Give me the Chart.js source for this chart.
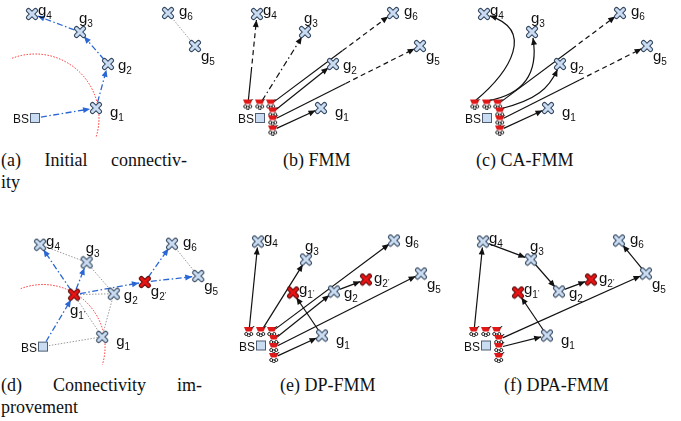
<!DOCTYPE html>
<html>
<head>
<meta charset="utf-8">
<script src="https://cdn.jsdelivr.net/npm/chart.js@4.4.0/dist/chart.umd.min.js"></script>
<style>
    body { margin: 0; background: #fff; width: 681px; height: 421px; position: relative; overflow: hidden; }
    canvas { position: absolute; }
    .cap { position: absolute; font-family: "Liberation Serif", serif; font-size: 18px; color: #111; white-space: nowrap; line-height: 20px; }
    .just { text-align: justify; text-align-last: justify; white-space: normal; }
</style>
</head>
<body>
<div class="cap just" style="left:1px;top:150px;width:186px">(a) Initial connectiv-</div>
<div class="cap" style="left:1px;top:172px">ity</div>
<div class="cap" style="left:283px;top:150px">(b) FMM</div>
<div class="cap" style="left:476px;top:150px">(c) CA-FMM</div>
<div class="cap just" style="left:1px;top:375px;width:201px">(d) Connectivity im-</div>
<div class="cap" style="left:1px;top:397px">provement</div>
<div class="cap" style="left:280px;top:375px">(e) DP-FMM</div>
<div class="cap" style="left:504px;top:375px">(f) DPA-FMM</div>
<script>
// node positions (panel units, y grows downward)
const GATEWAYS = ["g1", "g2", "g3", "g4", "g5", "g6"];
const GATE_X = [96, 108, 80, 32, 195, 168];
const GATE_Y = [108, 64, 32, 14, 46, 13];
const VIRTUALS = ["g1'", "g2'"];
const VIRT_X = [67, 140];
const VIRT_Y = [65, 52];
const BS_X = [35];
const BS_Y = [118];
const ROBOTS = ["r1", "r2", "r3", "r4", "r5", "r6"];
const ROBOT_X = [23, 35, 46, 48, 48, 48];
const ROBOT_Y = [104, 104, 104, 112, 120, 130];
const RANGE = 64;

// links per panel: [from, to, style, extra]
const EDGES_A = [
    ["BS", "g1", "blue"], ["g1", "g2", "blue"], ["g2", "g3", "blue"], ["g3", "g4", "blue"],
    ["g6", "g5", "gray"]
];
const EDGES_B = [
    ["r1", "g4", "mixed", 0.35], ["r2", "g3", "dashdot"], ["r3", "g6", "mixed", 0.6],
    ["r4", "g2", "solid"], ["r5", "g5", "mixed", 0.5], ["r6", "g1", "solid"]
];
const EDGES_C = [
    ["r1", "g4", "curve", [60, 70, 82, 30]], ["r2", "g3", "curve", [70, 95, 87, 75]],
    ["r3", "g6", "mixed", 0.62], ["r4", "g2", "curve", [85, 100, 97, 88]],
    ["r5", "g5", "mixed", 0.55], ["r6", "g1", "solid"]
];
const EDGES_D = [
    ["BS", "g1", "gray"], ["g1", "g1'", "gray"], ["g1", "g2", "gray"], ["g2", "g3", "gray"],
    ["g3", "g4", "gray"], ["g1'", "g2", "gray"], ["g6", "g5", "gray"],
    ["BS", "g1'", "blue"], ["g1'", "g4", "blue"], ["g1'", "g3", "blue"], ["g1'", "g2'", "blue"],
    ["g2'", "g6", "blue"], ["g2'", "g5", "blue"]
];
const EDGES_E = [
    ["r1", "g4", "solid"], ["r2", "g3", "solid"], ["r3", "g6", "solid"], ["r4", "g2", "solid"],
    ["r5", "g5", "solid"], ["r6", "g1", "solid"], ["g1", "g1'", "solid"], ["g2", "g2'", "solid"]
];
const EDGES_F = [
    ["r1", "g4", "solid"], ["g4", "g3", "solid"], ["g3", "g2", "solid"], ["g2", "g2'", "solid"],
    ["g5", "g6", "solid"], ["r4", "g5", "solid"], ["r5", "g1", "solid"], ["g1", "g1'", "solid"]
];

// label offsets in pixels: [dx to left of "g", dy to baseline]
const LAB = { g1: [14, 9], g2: [10, 6], g3: [-1, -9], g4: [6, 1], g5: [6, 15], g6: [11, 3] };
const LAB_VIRT_D = { "g1'": [-4, 20], "g2'": [6, 14] };
const LAB_VIRT_EF = { "g1'": [6, 1], "g2'": [8, 3] };

const PANELS = [
    { left: 0, top: 0, x: [0, 227], y: [0, 147], edges: EDGES_A, range: true },
    { left: 225, top: 0, x: [0, 227], y: [0, 147], edges: EDGES_B, robots: true },
    { left: 450, top: 0, x: [-2, 225], y: [0, 147], edges: EDGES_C, robots: true },
    { left: 0, top: 225, x: [-9.3, 224.7], y: [-6.1, 143.9], edges: EDGES_D, range: true, virt: LAB_VIRT_D },
    { left: 225, top: 225, x: [-1, 226], y: [-2.5, 144.5], edges: EDGES_E, robots: true, virt: LAB_VIRT_EF },
    { left: 450, top: 225, x: [-1, 226], y: [-2.5, 144.5], edges: EDGES_F, robots: true, virt: LAB_VIRT_EF }
];

const BLUE = "#2a67d4";

function nodePos(id) {
    if (id === "BS") return [BS_X[0], BS_Y[0]];
    let i = ROBOTS.indexOf(id);
    if (i >= 0) return [ROBOT_X[i], ROBOT_Y[i]];
    i = VIRTUALS.indexOf(id);
    if (i >= 0) return [VIRT_X[i], VIRT_Y[i]];
    i = GATEWAYS.indexOf(id);
    return [GATE_X[i], GATE_Y[i]];
}

function crossIcon(fill, edge) {
    const c = document.createElement("canvas");
    c.width = 14; c.height = 14;
    const g = c.getContext("2d");
    g.lineCap = "round";
    const path = () => {
        g.beginPath();
        g.moveTo(3.5, 3.5); g.lineTo(10.5, 10.5);
        g.moveTo(10.5, 3.5); g.lineTo(3.5, 10.5);
    };
    path(); g.strokeStyle = edge; g.lineWidth = 5; g.stroke();
    path(); g.strokeStyle = fill; g.lineWidth = 3; g.stroke();
    return c;
}

function squareIcon() {
    const c = document.createElement("canvas");
    c.width = 12; c.height = 12;
    const g = c.getContext("2d");
    g.fillStyle = "#c9dcf2";
    g.fillRect(1, 1, 10, 10);
    g.strokeStyle = "#4d5d72";
    g.lineWidth = 1;
    g.strokeRect(1.5, 1.5, 9, 9);
    return c;
}

function robotIcon() {
    const c = document.createElement("canvas");
    c.width = 12; c.height = 11;
    const g = c.getContext("2d");
    g.fillStyle = "#e01818";
    g.beginPath();
    g.moveTo(1, 1); g.lineTo(10.5, 1); g.lineTo(8.5, 5.5); g.lineTo(3, 5.5);
    g.closePath(); g.fill();
    g.strokeStyle = "#222"; g.lineWidth = 1;
    g.beginPath(); g.moveTo(8.5, 2); g.lineTo(11.5, 0); g.stroke();
    [[3.2, 8], [8.3, 8], [5.8, 9.3]].forEach(([x, y]) => {
        g.beginPath(); g.arc(x, y, 1.5, 0, Math.PI * 2); g.stroke();
    });
    return c;
}

const ICON_GATE = crossIcon("#c9dcf2", "#33465e");
const ICON_VIRT = crossIcon("#e81414", "#5a0a0a");
const ICON_BS = squareIcon();
const ICON_ROBOT = robotIcon();

function arrowHead(ctx, tip, from, color) {
    const a = Math.atan2(tip[1] - from[1], tip[0] - from[0]);
    const L = 7, W = 3;
    ctx.setLineDash([]);
    ctx.fillStyle = color;
    ctx.beginPath();
    ctx.moveTo(tip[0], tip[1]);
    ctx.lineTo(tip[0] - L * Math.cos(a) + W * Math.sin(a), tip[1] - L * Math.sin(a) - W * Math.cos(a));
    ctx.lineTo(tip[0] - L * Math.cos(a) - W * Math.sin(a), tip[1] - L * Math.sin(a) + W * Math.cos(a));
    ctx.closePath();
    ctx.fill();
}

function shorten(a, b, da, db) {
    const dx = b[0] - a[0], dy = b[1] - a[1];
    const d = Math.hypot(dx, dy);
    return [[a[0] + dx * da / d, a[1] + dy * da / d], [b[0] - dx * db / d, b[1] - dy * db / d]];
}

function seg(ctx, a, b, dash) {
    ctx.setLineDash(dash);
    ctx.beginPath();
    ctx.moveTo(a[0], a[1]);
    ctx.lineTo(b[0], b[1]);
    ctx.stroke();
}

const linksPlugin = {
    id: "links",
    beforeDatasetsDraw(chart, args, opts) {
        const { ctx, scales: { x, y } } = chart;
        const p = opts.panel;
        const pix = (id) => { const v = nodePos(id); return [x.getPixelForValue(v[0]), y.getPixelForValue(v[1])]; };
        ctx.save();

        if (p.range) {
            const bs = pix("BS");
            const r = x.getPixelForValue(RANGE) - x.getPixelForValue(0);
            ctx.strokeStyle = "#ff2a2a";
            ctx.lineWidth = 1;
            ctx.setLineDash([1.5, 1.5]);
            ctx.beginPath();
            ctx.arc(bs[0], bs[1], r, -111 * Math.PI / 180, 17 * Math.PI / 180);
            ctx.stroke();
        }

        p.edges.forEach(([from, to, style, extra]) => {
            const a0 = pix(from), b0 = pix(to);
            const startCut = from.startsWith("r") ? 4 : 6;
            if (style === "gray") {
                ctx.strokeStyle = "#9a9a9a";
                ctx.lineWidth = 1;
                seg(ctx, a0, b0, [1.5, 1.5]);
                return;
            }
            if (style === "curve") {
                const c1 = [x.getPixelForValue(extra[0]), y.getPixelForValue(extra[1])];
                const c2 = [x.getPixelForValue(extra[2]), y.getPixelForValue(extra[3])];
                const [, end] = shorten(c2, b0, 0, 6);
                ctx.strokeStyle = "#111";
                ctx.lineWidth = 1.2;
                ctx.setLineDash([]);
                ctx.beginPath();
                ctx.moveTo(a0[0], a0[1] - 3);
                ctx.bezierCurveTo(c1[0], c1[1], c2[0], c2[1], end[0], end[1]);
                ctx.stroke();
                arrowHead(ctx, end, c2, "#111");
                return;
            }
            const [a, b] = shorten(a0, b0, startCut, 6);
            if (style === "blue") {
                ctx.strokeStyle = BLUE;
                ctx.lineWidth = 1.3;
                seg(ctx, a, b, [6, 2.5, 1.5, 2.5]);
                arrowHead(ctx, b, a, BLUE);
                return;
            }
            ctx.strokeStyle = "#111";
            ctx.lineWidth = 1.2;
            if (style === "solid") {
                seg(ctx, a, b, []);
            } else if (style === "dashdot") {
                seg(ctx, a, b, [6, 3, 1.5, 3]);
            } else if (style === "mixed") {
                const m = [a[0] + (b[0] - a[0]) * extra, a[1] + (b[1] - a[1]) * extra];
                seg(ctx, a, m, []);
                seg(ctx, m, b, [5, 3.5]);
            }
            arrowHead(ctx, b, a, "#111");
        });
        ctx.restore();
    },
    afterDatasetsDraw(chart, args, opts) {
        const { ctx, scales: { x, y } } = chart;
        const p = opts.panel;
        const pix = (id) => { const v = nodePos(id); return [x.getPixelForValue(v[0]), y.getPixelForValue(v[1])]; };
        ctx.save();
        ctx.fillStyle = "#111";
        ctx.textBaseline = "alphabetic";
        const label = (id, off) => {
            const [px, py] = pix(id);
            const lx = px + off[0], ly = py + off[1];
            ctx.font = '15px "Liberation Sans", Arial, sans-serif';
            ctx.textAlign = "left";
            ctx.fillText("g", lx, ly);
            const gw = ctx.measureText("g").width;
            ctx.font = '10px "Liberation Sans", Arial, sans-serif';
            const sub = id.slice(1).replace("'", "");
            ctx.fillText(sub, lx + gw, ly + 4);
            if (id.includes("'")) {
                const sw = ctx.measureText(sub).width;
                ctx.font = '8px "Liberation Sans", Arial, sans-serif';
                ctx.fillText("'", lx + gw + sw, ly + 1);
            }
        };
        GATEWAYS.forEach(id => label(id, LAB[id]));
        if (p.virt) VIRTUALS.forEach(id => label(id, p.virt[id]));
        const bs = pix("BS");
        ctx.font = '12px "Liberation Sans", Arial, sans-serif';
        ctx.textAlign = "right";
        ctx.fillText("BS", bs[0] - 6, bs[1] + 5);
        ctx.restore();
    }
};

function pts(xs, ys) {
    return xs.map((v, i) => ({ x: v, y: ys[i] }));
}

PANELS.forEach(p => {
    const cv = document.createElement("canvas");
    cv.width = 227;
    cv.height = 147;
    cv.style.left = p.left + "px";
    cv.style.top = p.top + "px";
    document.body.appendChild(cv);

    const datasets = [
        { data: pts(GATE_X, GATE_Y), pointStyle: ICON_GATE, pointRadius: 6 },
        { data: pts(BS_X, BS_Y), pointStyle: ICON_BS, pointRadius: 6 }
    ];
    if (p.virt) datasets.push({ data: pts(VIRT_X, VIRT_Y), pointStyle: ICON_VIRT, pointRadius: 6 });
    if (p.robots) datasets.push({ data: pts(ROBOT_X, ROBOT_Y), pointStyle: ICON_ROBOT, pointRadius: 6 });

    new Chart(cv, {
        type: "scatter",
        data: { datasets },
        options: {
            responsive: false,
            animation: false,
            events: [],
            layout: { padding: 0, autoPadding: false },
            scales: {
                x: { type: "linear", display: false, min: p.x[0], max: p.x[1] },
                y: { type: "linear", display: false, reverse: true, min: p.y[0], max: p.y[1] }
            },
            plugins: {
                legend: { display: false },
                tooltip: { enabled: false },
                links: { panel: p }
            }
        },
        plugins: [linksPlugin]
    });
});
</script>
</body>
</html>
